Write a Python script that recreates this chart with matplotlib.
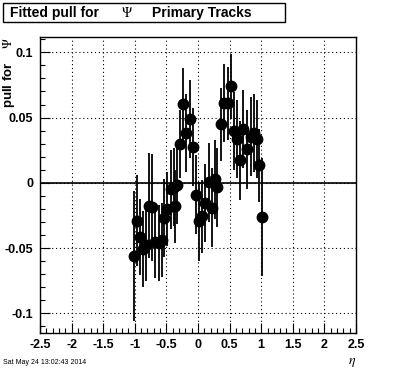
import matplotlib
matplotlib.use("Agg")
import matplotlib.pyplot as plt
from matplotlib.patches import Rectangle
from matplotlib.ticker import MultipleLocator

plt.rcParams['font.family'] = ['Liberation Sans', 'DejaVu Sans']
plt.rcParams['mathtext.fontset'] = 'stix'

# fitted pull per eta bin
eta = [-1.015, -0.972, -0.922, -0.875, -0.823, -0.780, -0.720, -0.677, -0.625,
       -0.573, -0.531, -0.484, -0.432, -0.380, -0.365, -0.328, -0.287, -0.235,
       -0.193, -0.130, -0.078, -0.031, 0.016, 0.063, 0.104, 0.170, 0.224,
       0.270, 0.305, 0.365, 0.405, 0.475, 0.520, 0.570, 0.615, 0.660, 0.710,
       0.775, 0.835, 0.881, 0.928, 0.964, 1.010]
pull = [-0.056, -0.029, -0.0415, -0.0505, -0.0475, -0.0175, -0.0187, -0.045,
        -0.046, -0.0438, -0.027, -0.020, -0.005, -0.003, -0.018, -0.0018,
        0.0295, 0.0603, 0.038, 0.0487, 0.0277, -0.009, -0.0295, -0.0256,
        -0.0152, 0.0003, -0.019, 0.0026, -0.0035, 0.0449, 0.061, 0.0608,
        0.0738, 0.0397, 0.0338, 0.0172, 0.041, 0.0256, 0.0354, 0.038, 0.0338,
        0.0133, -0.026]
pull_err = [0.050, 0.035, 0.029, 0.029, 0.028, 0.040, 0.041, 0.028, 0.029,
            0.028, 0.030, 0.028, 0.030, 0.030, 0.028, 0.030, 0.026, 0.028,
            0.030, 0.030, 0.030, 0.030, 0.030, 0.028, 0.030, 0.030, 0.030,
            0.030, 0.030, 0.028, 0.030, 0.028, 0.025, 0.030, 0.030, 0.030,
            0.030, 0.030, 0.030, 0.030, 0.030, 0.028, 0.045]

fig = plt.figure(figsize=(3.96, 3.72), dpi=100)
ax = fig.add_axes([40 / 396, 1 - 333 / 372, 316 / 396, 296 / 372])

ax.errorbar(eta, pull, yerr=pull_err, fmt='o', color='black', ms=7.5,
            elinewidth=1.3, capsize=0, zorder=3)
ax.axhline(0, color='black', lw=1.2, zorder=2)

ax.set_xlim(-2.5, 2.5)
ax.set_ylim(-0.115, 0.1117)
ax.xaxis.set_minor_locator(MultipleLocator(0.1))
ax.yaxis.set_minor_locator(MultipleLocator(0.01))
ax.set_xticks([-2.5, -2, -1.5, -1, -0.5, 0, 0.5, 1, 1.5, 2, 2.5])
ax.set_xticklabels(['-2.5', '-2', '-1.5', '-1', '-0.5', '0', '0.5', '1', '1.5', '2', '2.5'])
ax.set_yticks([-0.1, -0.05, 0, 0.05, 0.1])
ax.set_yticklabels(['-0.1', '-0.05', '0', '0.05', '0.1'])
ax.tick_params(which='both', direction='in', top=False, right=False,
               labelsize=9, width=0.8)
ax.tick_params(which='major', length=7)
ax.tick_params(which='minor', length=3.5)
ax.tick_params(axis='x', pad=4)
ax.tick_params(axis='y', pad=5)
for lab in ax.get_xticklabels() + ax.get_yticklabels():
    lab.set_fontweight('bold')
ax.grid(True, which='major', color='black', linestyle=(0, (1, 2.5)), lw=0.8)
for s in ax.spines.values():
    s.set_linewidth(1.0)

# title box
fig.patches.append(Rectangle((3 / 396, 1 - 22 / 372), 282 / 396, 19 / 372,
                             transform=fig.transFigure, facecolor='white',
                             edgecolor='black', lw=1.0))
ty = 1 - 13 / 372
fig.text(10 / 396, ty, 'Fitted pull for', fontsize=10, fontweight='bold', va='center')
fig.text(121 / 396, ty, r'$\Psi$', fontsize=10, va='center')
fig.text(152 / 396, ty, 'Primary Tracks', fontsize=10, fontweight='bold', va='center')

# axis labels
fig.text(9 / 396, 1 - 37 / 372, r'pull for    $\Psi$', rotation=90, fontsize=9.5,
         fontweight='bold', ha='center', va='top')
fig.text(356 / 396, 1 - 362 / 372, r'$\eta$', fontsize=10, ha='right', va='center')
fig.text(3 / 396, 1 - 362 / 372, 'Sat May 24 13:02:43 2014', fontsize=5,
         va='center')

fig.savefig('out.png', dpi=100)
